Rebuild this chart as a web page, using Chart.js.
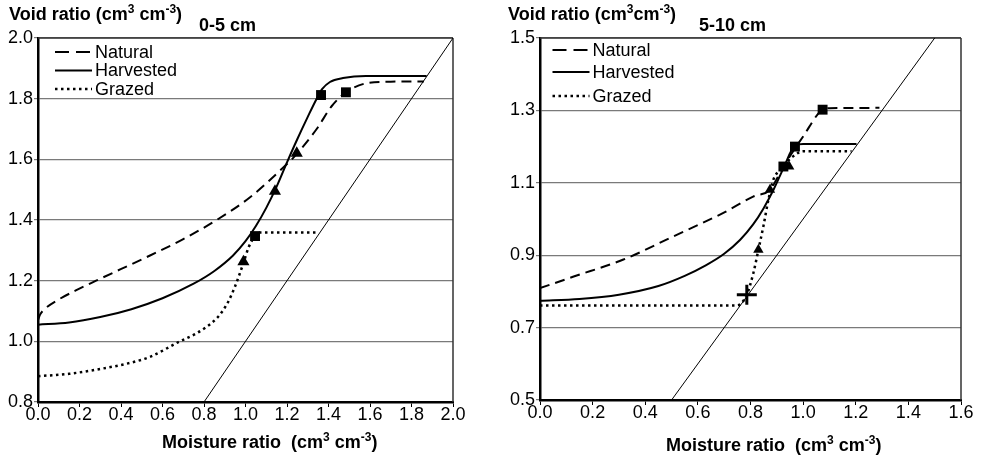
<!DOCTYPE html>
<html>
<head>
<meta charset="utf-8">
<script src="https://cdn.jsdelivr.net/npm/chart.js@4.4.1/dist/chart.umd.min.js"></script>
<style>
  body { margin: 0; background: #fff; }
  #wrap { position: relative; width: 983px; height: 455px; overflow: hidden; }
  canvas { position: absolute; top: 0; }
  .t { position: absolute; font: bold 18px "Liberation Sans", Arial, sans-serif; color: #000; white-space: pre; line-height: 20px; }
  .t sup { font-size: 12px; vertical-align: baseline; position: relative; top: -7px; line-height: 0; }
</style>
</head>
<body>
<div id="wrap">
  <canvas id="chart05" width="475" height="455" style="left:0"></canvas>
  <canvas id="chart510" width="483" height="455" style="left:500px"></canvas>
  <div class="t" style="left:9px;top:4px">Void ratio (cm<sup>3</sup> cm<sup>-3</sup>)</div>
  <div class="t" style="left:199px;top:15px">0-5 cm</div>
  <div class="t" style="left:162px;top:432px">Moisture ratio  (cm<sup>3</sup> cm<sup>-3</sup>)</div>
  <div class="t" style="left:508px;top:4px">Void ratio (cm<sup>3</sup>cm<sup>-3</sup>)</div>
  <div class="t" style="left:699px;top:15px">5-10 cm</div>
  <div class="t" style="left:666px;top:435px">Moisture ratio  (cm<sup>3</sup> cm<sup>-3</sup>)</div>
</div>
<script>
// series names
const seriesNames = ["Natural", "Harvested", "Grazed"];

// 0-5 cm  (moisture ratio, void ratio)
const natural05 = [[0, 1.07], [0.01, 1.088], [0.03, 1.105], [0.10, 1.138], [0.18, 1.167], [0.28, 1.20],
    [0.54, 1.283], [0.70, 1.337], [0.861, 1.40], [1.022, 1.475], [1.182, 1.573], [1.23, 1.605],
    [1.343, 1.70], [1.415, 1.775], [1.484, 1.821], [1.584, 1.851], [1.70, 1.856], [1.86, 1.857]];
const harvested05 = [[0, 1.055], [0.15, 1.062], [0.30, 1.080], [0.45, 1.106], [0.60, 1.142], [0.75, 1.190],
    [0.85, 1.232], [0.94, 1.283], [1.00, 1.33], [1.05, 1.38], [1.10, 1.44], [1.15, 1.51], [1.20, 1.59],
    [1.25, 1.667], [1.30, 1.74], [1.343, 1.80], [1.37, 1.832], [1.407, 1.855], [1.47, 1.868],
    [1.58, 1.875], [1.873, 1.875]];
const grazed05 = [[0, 0.885], [0.15, 0.893], [0.30, 0.909], [0.45, 0.930], [0.54, 0.949], [0.684, 1.0],
    [0.76, 1.025], [0.813, 1.048], [0.86, 1.075], [0.893, 1.103], [0.92, 1.135], [0.949, 1.18],
    [0.99, 1.258], [1.015, 1.31], [1.046, 1.347], [1.07, 1.359], [1.351, 1.359]];
const saturation05 = [[0.8, 0.8], [2.0, 2.0]];
const squares05 = [[1.364, 1.812], [1.484, 1.821], [1.046, 1.347]];
const triangles05 = [[1.247, 1.62], [1.142, 1.495], [0.99, 1.262]];

// 5-10 cm
const natural510 = [[0, 0.809], [0.128, 0.841], [0.317, 0.888], [0.507, 0.952], [0.697, 1.017], [0.81, 1.062],
    [0.874, 1.081], [0.925, 1.145], [1.0, 1.228], [1.074, 1.302], [1.1, 1.306], [1.29, 1.307]];
const harvested510 = [[0, 0.774], [0.15, 0.779], [0.30, 0.791], [0.45, 0.815], [0.55, 0.843], [0.63, 0.872],
    [0.70, 0.904], [0.76, 0.942], [0.81, 0.985], [0.85, 1.030], [0.887, 1.080], [0.925, 1.140],
    [0.969, 1.203], [1.0, 1.207], [1.203, 1.207]];
const grazed510 = [[0, 0.761], [0.748, 0.761], [0.786, 0.791], [0.811, 0.851], [0.83, 0.915], [0.849, 0.98],
    [0.868, 1.053], [0.887, 1.109], [0.912, 1.136], [0.962, 1.173], [1.0, 1.187], [1.184, 1.187]];
const saturation510 = [[0.5, 0.5], [1.5, 1.5]];
const squares510 = [[1.074, 1.302], [0.969, 1.20], [0.925, 1.145]];
const triangles510 = [[0.874, 1.081], [0.947, 1.145], [0.83, 0.915]];
const crosses510 = [[0.786, 0.791]];

const lineStyles = [
    { width: 2, dash: [10, 6], key: [14, 7] },
    { width: 2, dash: [], key: [] },
    { width: 2.5, dash: [2.5, 3.5], key: [2.5, 3.5] }
];

Chart.defaults.font.family = "'Liberation Sans', Arial, sans-serif";
Chart.defaults.font.size = 18;
Chart.defaults.color = "#000";

function toXY(arr) {
    return arr.map(p => ({ x: p[0], y: p[1] }));
}

// legend drawn inside the plot, like the original
const lineKey = {
    id: "lineKey",
    afterDatasetsDraw(chart, args, opts) {
        const ctx = chart.ctx;
        ctx.save();
        seriesNames.forEach((name, i) => {
            const y = opts.ys[i];
            ctx.strokeStyle = "#000";
            ctx.lineWidth = lineStyles[i].width;
            ctx.setLineDash(lineStyles[i].key);
            ctx.beginPath();
            ctx.moveTo(opts.x, y);
            ctx.lineTo(opts.x + opts.len, y);
            ctx.stroke();
            ctx.setLineDash([]);
            ctx.fillStyle = "#000";
            ctx.font = "18px 'Liberation Sans', Arial, sans-serif";
            ctx.textBaseline = "middle";
            ctx.fillText(name, opts.x + opts.len + 3, y + 1);
        });
        ctx.restore();
    }
};

// top and right border of the plot area
const frame = {
    id: "frame",
    beforeDatasetsDraw(chart) {
        const { ctx, chartArea } = chart;
        ctx.save();
        ctx.strokeStyle = "#333";
        ctx.lineWidth = 1.5;
        ctx.beginPath();
        ctx.moveTo(chartArea.right, chartArea.top);
        ctx.lineTo(chartArea.right, chartArea.bottom);
        ctx.moveTo(chartArea.left, chartArea.top);
        ctx.lineTo(chartArea.right, chartArea.top);
        ctx.stroke();
        ctx.restore();
    }
};

function makeChart(id, d, o) {
    const curve = (data, i) => ({
        label: seriesNames[i],
        data: toXY(data),
        showLine: true,
        borderColor: "#000",
        borderWidth: lineStyles[i].width,
        borderDash: lineStyles[i].dash,
        pointRadius: 0,
        cubicInterpolationMode: "monotone"
    });
    const marks = (data, style, r, bw) => ({
        data: toXY(data),
        showLine: false,
        pointStyle: style,
        pointRadius: r,
        pointHoverRadius: r,
        backgroundColor: "#000",
        borderColor: "#000",
        borderWidth: bw
    });
    const datasets = [
        marks(d.squares, "rect", 7, 0),
        marks(d.triangles, "triangle", o.triR, 0)
    ];
    if (d.crosses) datasets.push(marks(d.crosses, "cross", 10, 3));
    datasets.push(curve(d.natural, 0), curve(d.harvested, 1), curve(d.grazed, 2));
    datasets.push({
        data: toXY(d.saturation),
        showLine: true,
        borderColor: "#000",
        borderWidth: 1,
        pointRadius: 0
    });

    return new Chart(document.getElementById(id), {
        type: "scatter",
        data: { datasets: datasets },
        plugins: [frame, lineKey],
        options: {
            responsive: false,
            animation: false,
            layout: { padding: { top: 38, right: o.padRight, left: 0, bottom: 0 } },
            plugins: {
                legend: { display: false },
                tooltip: { enabled: false },
                lineKey: { x: o.keyX, ys: o.keyYs, len: 37 }
            },
            scales: {
                x: {
                    type: "linear",
                    min: 0,
                    max: o.xMax,
                    afterFit: s => { s.height = o.xAxisH; },
                    ticks: { stepSize: 0.2, padding: -1, maxRotation: 0, autoSkip: false,
                        font: { size: 18, lineHeight: 1 }, callback: v => v.toFixed(1) },
                    grid: { drawOnChartArea: false, drawTicks: true, tickLength: 5, color: "#000" },
                    border: { color: "#000", width: 2.5 }
                },
                y: {
                    type: "linear",
                    min: o.yMin,
                    max: o.yMax,
                    afterFit: s => { s.width = o.yAxisW; },
                    ticks: { stepSize: 0.2, padding: 1, autoSkip: false, callback: v => v.toFixed(1) },
                    grid: { color: "#7a7a7a", lineWidth: 1.2, drawTicks: true, tickLength: 4 },
                    border: { color: "#000", width: 2.5 }
                }
            }
        }
    });
}

makeChart("chart05", {
    natural: natural05, harvested: harvested05, grazed: grazed05, saturation: saturation05,
    squares: squares05, triangles: triangles05
}, { xMax: 2.0, yMin: 0.8, yMax: 2.0, padRight: 22, xAxisH: 53, yAxisW: 38, triR: 7,
     keyX: 55, keyYs: [52, 70.5, 89] });

makeChart("chart510", {
    natural: natural510, harvested: harvested510, grazed: grazed510, saturation: saturation510,
    squares: squares510, triangles: triangles510, crosses: crosses510
}, { xMax: 1.6, yMin: 0.5, yMax: 1.5, padRight: 22, xAxisH: 55, yAxisW: 40, triR: 6,
     keyX: 52.5, keyYs: [50, 72, 96] });
</script>
</body>
</html>
